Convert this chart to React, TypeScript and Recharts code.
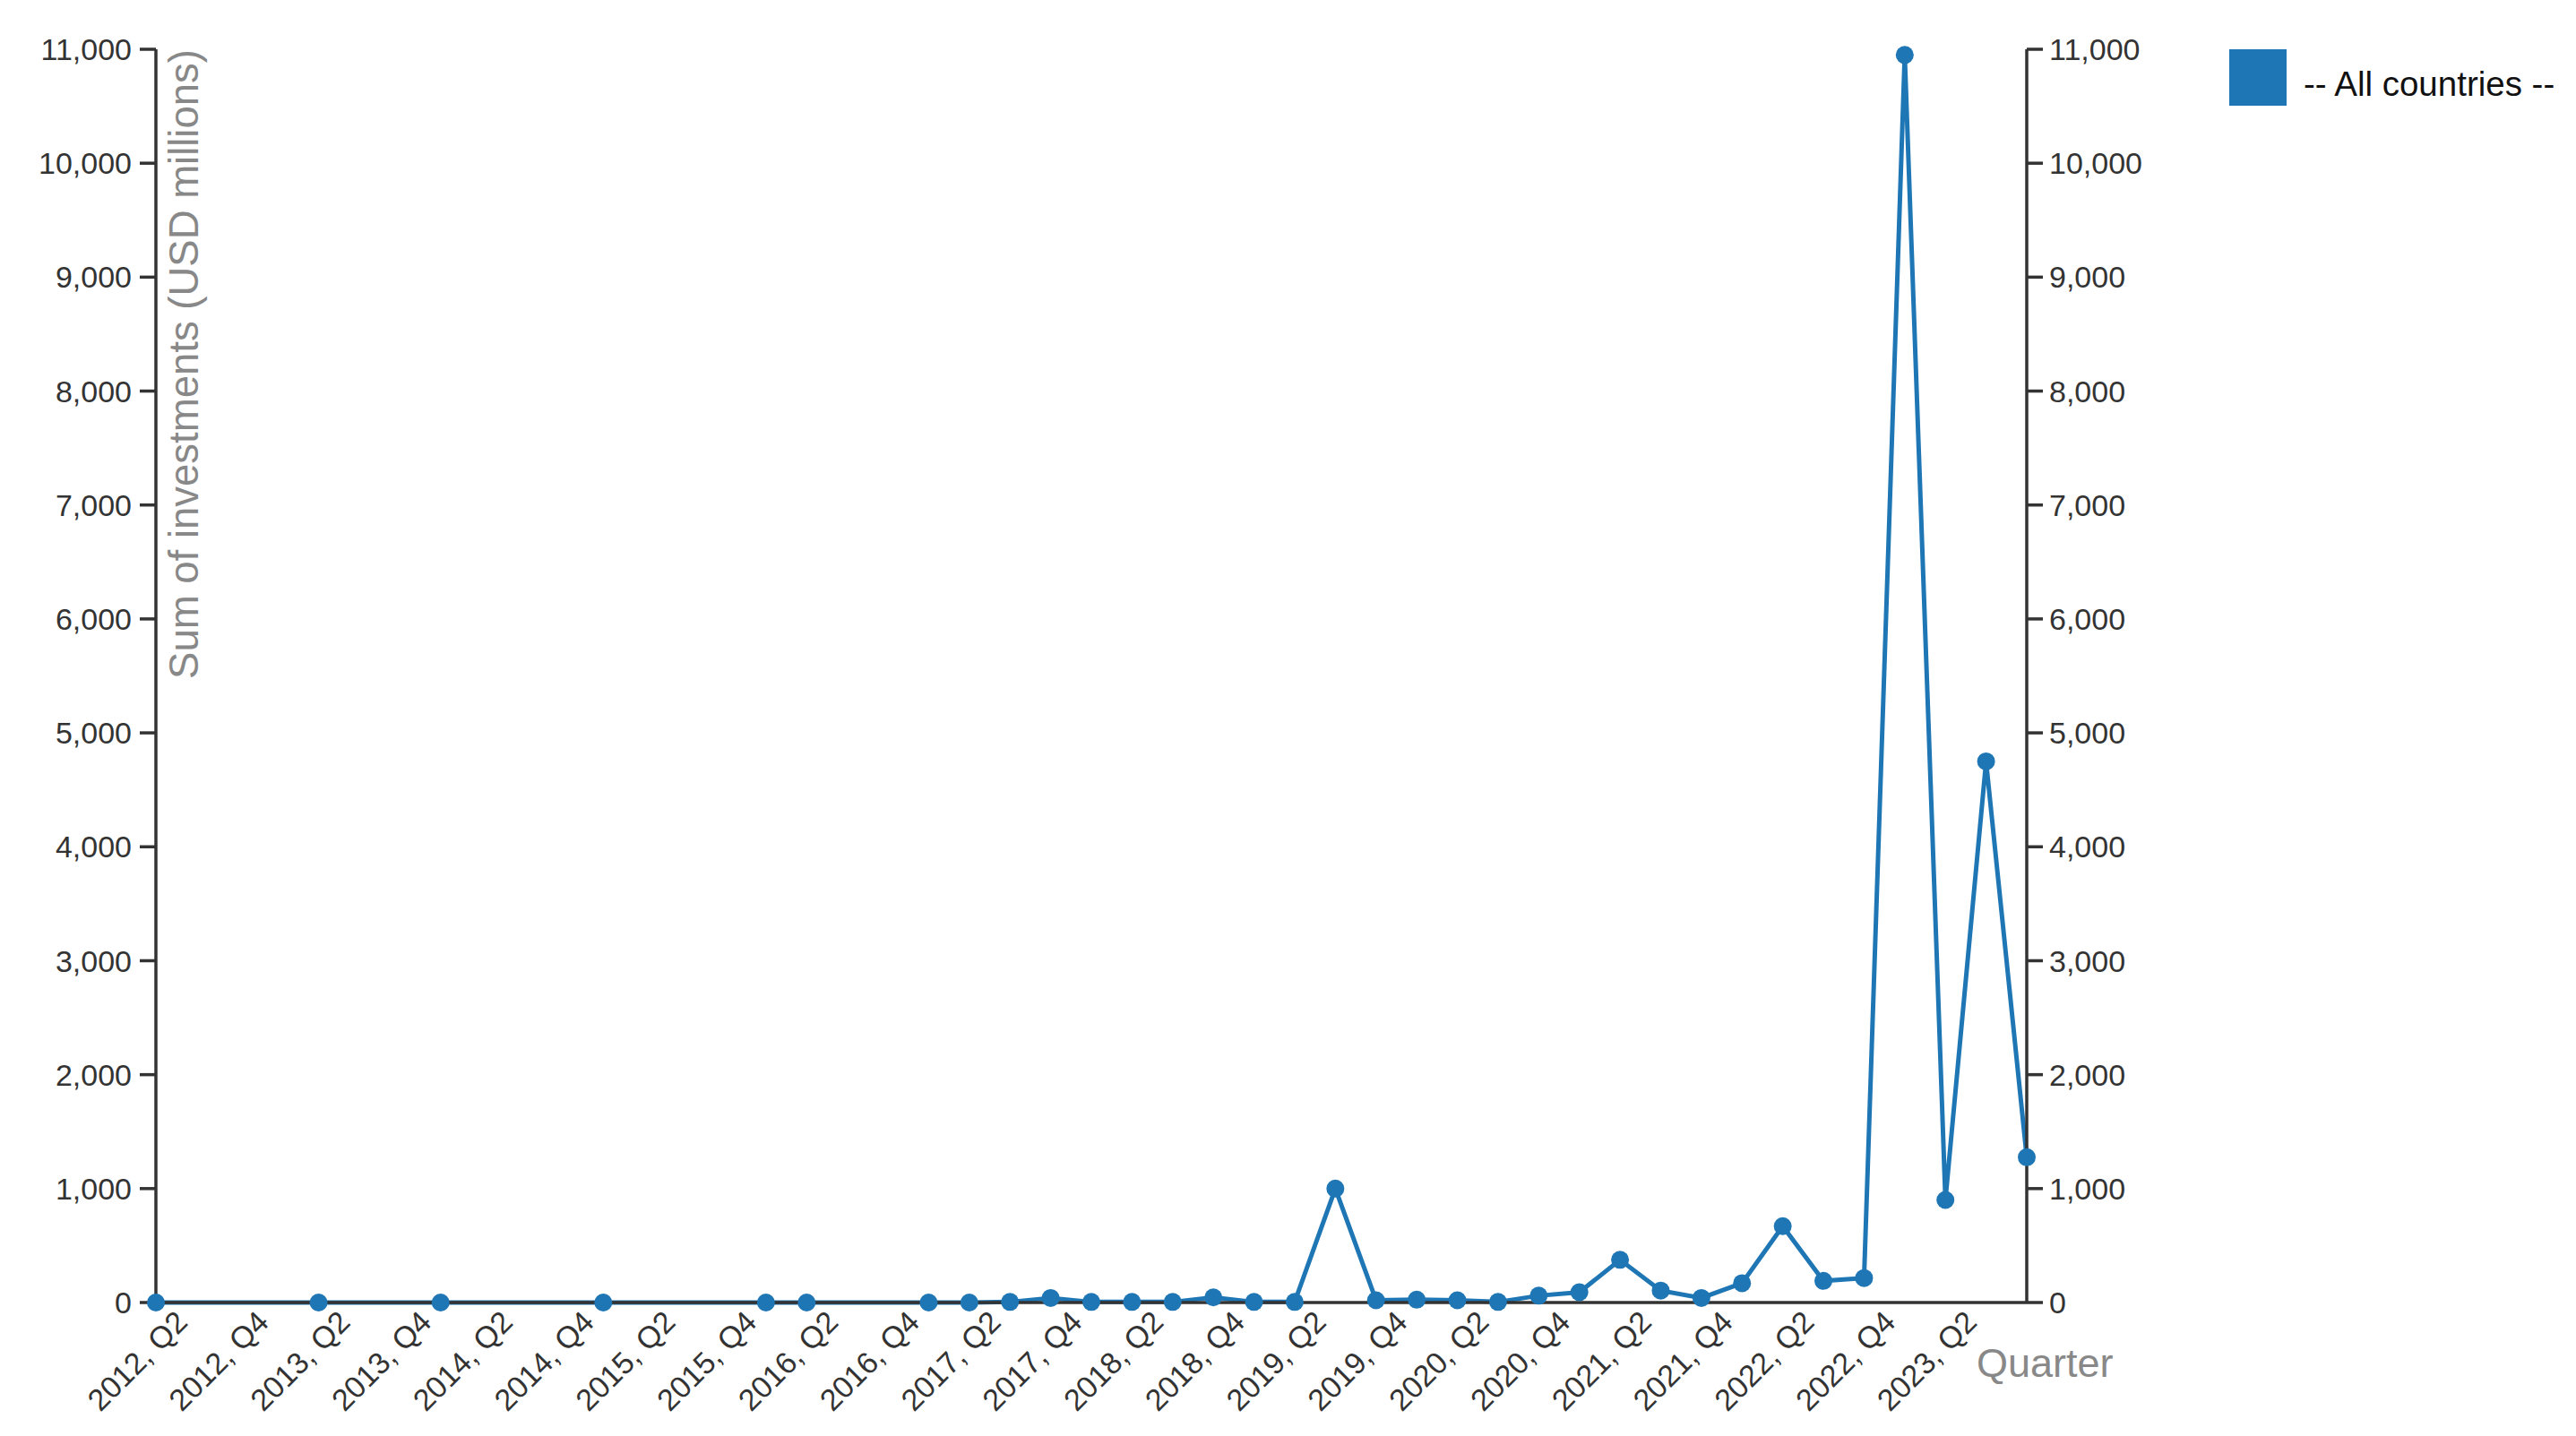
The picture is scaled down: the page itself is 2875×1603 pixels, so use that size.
import React from 'react';
import { LineChart, Line, XAxis, YAxis, Legend } from 'recharts';

const quarters = [
  '2012, Q2', '2012, Q3', '2012, Q4', '2013, Q1', '2013, Q2', '2013, Q3', '2013, Q4',
  '2014, Q1', '2014, Q2', '2014, Q3', '2014, Q4', '2015, Q1', '2015, Q2', '2015, Q3',
  '2015, Q4', '2016, Q1', '2016, Q2', '2016, Q3', '2016, Q4', '2017, Q1', '2017, Q2',
  '2017, Q3', '2017, Q4', '2018, Q1', '2018, Q2', '2018, Q3', '2018, Q4', '2019, Q1',
  '2019, Q2', '2019, Q3', '2019, Q4', '2020, Q1', '2020, Q2', '2020, Q3', '2020, Q4',
  '2021, Q1', '2021, Q2', '2021, Q3', '2021, Q4', '2022, Q1', '2022, Q2', '2022, Q3',
  '2022, Q4', '2023, Q1', '2023, Q2', '2023, Q3', '2023, Q4',
];

const investments: (number | null)[] = [
  0, null, null, null, 0, null, null,
  0, null, null, null, 0, null, null,
  null, 0, 0, null, null, 0, 0,
  5, 40, 5, 5, 5, 45, 5,
  5, 1000, 20, 25, 20, 5, 60,
  90, 375, 105, 40, 170, 670, 190,
  215, 10950, 900, 4750, 1275,
];

const xTickLabels = [
  '2012, Q2', '2012, Q4', '2013, Q2', '2013, Q4', '2014, Q2', '2014, Q4', '2015, Q2',
  '2015, Q4', '2016, Q2', '2016, Q4', '2017, Q2', '2017, Q4', '2018, Q2', '2018, Q4',
  '2019, Q2', '2019, Q4', '2020, Q2', '2020, Q4', '2021, Q2', '2021, Q4', '2022, Q2',
  '2022, Q4', '2023, Q2',
];

const yTicks = [0, 1000, 2000, 3000, 4000, 5000, 6000, 7000, 8000, 9000, 10000, 11000];

const seriesName = '-- All countries --';
const yLabel = 'Sum of investments (USD millions)';
const xLabel = 'Quarter';

const data = quarters.map((q, i) => ({ quarter: q, value: investments[i] }));

const BLUE = '#1f76b4';
const FONT = '"Liberation Sans", Arial, sans-serif';
const AXIS = '#333333';

const fmt = (v: number) => v.toLocaleString('en-US');

const XTick = (props: any) => {
  const { x, y, payload } = props;
  return (
    <g transform={`translate(${x + 37},${y + 24}) rotate(-45)`}>
      <text x={0} y={0} textAnchor="end" fontSize={34} fontFamily={FONT} fill="#333">
        {payload.value}
      </text>
    </g>
  );
};

const YLabel = (props: any) => {
  const vb = props.viewBox || { x: 0, y: 55, width: 174, height: 1399 };
  const x = vb.x + vb.width + 47;
  const y = vb.y;
  return (
    <text
      x={x}
      y={y}
      transform={`rotate(-90, ${x}, ${y})`}
      textAnchor="end"
      fontSize={45.5}
      fontFamily={FONT}
      fill="#888"
    >
      {yLabel}
    </text>
  );
};

const XLabel = (props: any) => {
  const vb = props.viewBox || { x: 174, y: 1454, width: 2088, height: 120 };
  return (
    <text x={vb.x + vb.width - 56} y={vb.y + 83} fontSize={45} fontFamily={FONT} fill="#888">
      {xLabel}
    </text>
  );
};

const LegendContent = () => (
  <div style={{ display: 'flex', alignItems: 'center' }}>
    <div style={{ width: 64, height: 63, background: BLUE }} />
    <span
      style={{
        marginLeft: 19,
        marginTop: 14,
        fontSize: 38.5,
        fontFamily: FONT,
        color: '#111',
        whiteSpace: 'nowrap',
      }}
    >
      {seriesName}
    </span>
  </div>
);

export default function App() {
  return (
    <div style={{ position: 'absolute', left: 0, top: 0, background: '#fff' }}>
      <LineChart
        width={2875}
        height={1603}
        data={data}
        margin={{ top: 55, left: 0, right: 473, bottom: 29 }}
      >
        <XAxis
          dataKey="quarter"
          ticks={xTickLabels}
          interval={0}
          tick={<XTick />}
          tickLine={false}
          tickSize={0}
          tickMargin={0}
          height={120}
          padding={{ left: 0, right: 0 }}
          axisLine={{ stroke: AXIS, strokeWidth: 3.5 }}
          label={<XLabel />}
        />
        <YAxis
          yAxisId="left"
          width={174}
          type="number"
          domain={[0, 11000]}
          ticks={yTicks}
          tickFormatter={fmt}
          tickSize={18}
          tickMargin={9}
          tick={{ fontSize: 34, fontFamily: FONT, fill: '#333' }}
          tickLine={{ stroke: AXIS, strokeWidth: 3.5 }}
          axisLine={{ stroke: AXIS, strokeWidth: 3.5 }}
          label={<YLabel />}
        />
        <YAxis
          yAxisId="right"
          orientation="right"
          width={140}
          type="number"
          domain={[0, 11000]}
          allowDataOverflow
          ticks={yTicks}
          tickFormatter={fmt}
          tickSize={18}
          tickMargin={7}
          tick={{ fontSize: 34, fontFamily: FONT, fill: '#333' }}
          tickLine={{ stroke: AXIS, strokeWidth: 3.5 }}
          axisLine={{ stroke: AXIS, strokeWidth: 3.5 }}
        />
        <Legend
          verticalAlign="middle"
          align="center"
          layout="horizontal"
          wrapperStyle={{ left: 2488, top: 55, width: 'auto', height: 'auto' }}
          content={<LegendContent />}
        />
        <Line
          yAxisId="left"
          type="linear"
          dataKey="value"
          name={seriesName}
          stroke={BLUE}
          strokeWidth={5}
          connectNulls
          dot={{ r: 10, fill: BLUE, stroke: BLUE, strokeWidth: 0 }}
          activeDot={false}
          isAnimationActive={false}
        />
      </LineChart>
    </div>
  );
}
